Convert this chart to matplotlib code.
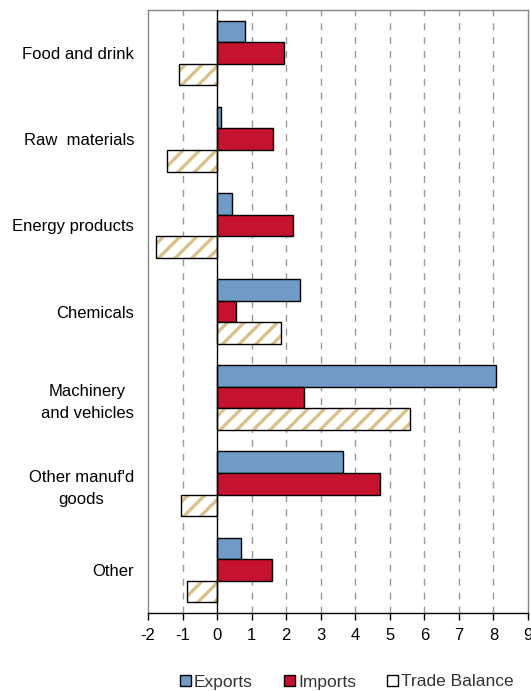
import matplotlib
matplotlib.use("Agg")
import matplotlib.pyplot as plt
from matplotlib.patches import Patch
import numpy as np

categories = ["Food and drink", "Raw  materials", "Energy products", "Chemicals",
              "Machinery\nand vehicles", "Other manuf'd\ngoods", "Other"]
exports = [0.81, 0.12, 0.44, 2.39, 8.07, 3.64, 0.70]
imports = [1.93, 1.61, 2.20, 0.54, 2.52, 4.73, 1.58]
balance = [-1.10, -1.46, -1.77, 1.84, 5.58, -1.05, -0.87]
xticks = list(range(-2, 10))

plt.rcParams['font.family'] = ['Liberation Sans', 'DejaVu Sans']
plt.rcParams['hatch.linewidth'] = 2.4

c_exp = "#6F9BC6"
c_imp = "#C4122F"
c_bal = "#DCC08A"

fig = plt.figure(figsize=(5.31, 6.91), dpi=100)
ax = fig.add_axes([148/531, 1 - 613/691, 380/531, 603/691])

y = np.arange(len(categories))
h = 0.25
ax.barh(y - h, exports, height=h, color=c_exp, edgecolor="black", linewidth=1.0, zorder=3)
ax.barh(y, imports, height=h, color=c_imp, edgecolor="black", linewidth=1.0, zorder=3)
ax.barh(y + h, balance, height=h, color="white", edgecolor=c_bal, hatch="//", linewidth=0, zorder=3)
ax.barh(y + h, balance, height=h, facecolor="none", edgecolor="black", linewidth=1.0, zorder=4)

ax.set_xlim(-2, 9)
ax.set_ylim(len(categories) - 0.5, -0.5)
ax.set_xticks(xticks)
ax.set_xticklabels([str(t) for t in xticks], fontsize=12)
ax.set_yticks(y)
ax.set_yticklabels(categories, fontsize=12, multialignment="center", linespacing=1.55)
ax.tick_params(axis="y", length=0, pad=10)
ax.tick_params(axis="x", direction="out", length=5, width=1, color="black", pad=6)

for t in xticks:
    if t not in (-2, 0, 9):
        ax.axvline(t, color="#999999", linewidth=1, dashes=(5, 5), zorder=1)
ax.axvline(0, color="black", linewidth=1, zorder=5)

for s in ("top", "left", "right"):
    ax.spines[s].set_color("#888888")
    ax.spines[s].set_linewidth(1)
ax.spines["bottom"].set_color("black")
ax.spines["bottom"].set_linewidth(1)

handles = [Patch(facecolor=c_exp, edgecolor="black", linewidth=1.0, label="Exports"),
           Patch(facecolor=c_imp, edgecolor="black", linewidth=1.0, label="Imports"),
           Patch(facecolor="white", edgecolor="black", linewidth=1.0, label="Trade Balance")]
fig.legend(handles=handles, loc="center", bbox_to_anchor=(347/531, 1 - 682/691),
           ncol=3, frameon=False, fontsize=12.5, handlelength=0.6, handleheight=0.6,
           handletextpad=0.2, columnspacing=1.8, labelcolor="#333333")

fig.savefig("out.png", dpi=100)
